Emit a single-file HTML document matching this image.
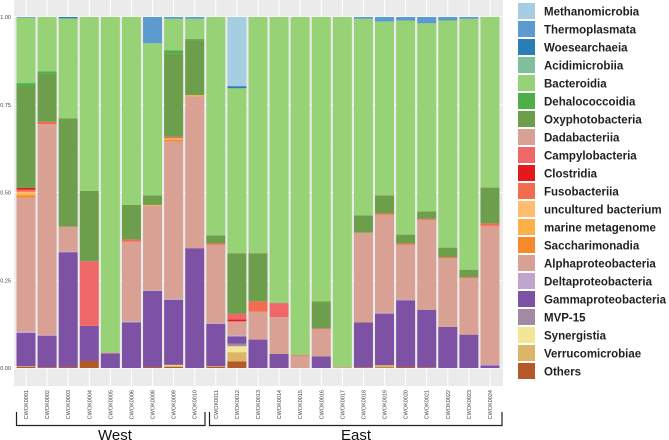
<!DOCTYPE html>
<html><head><meta charset="utf-8">
<style>
body{margin:0;background:#fff;width:669px;height:440px;overflow:hidden;font-family:"Liberation Sans",sans-serif;}
svg{display:block}
</style></head>
<body>
<svg id="chart" width="669" height="440">
<rect x="14" y="0" width="489" height="386" fill="#ebebeb"/>
<g id="grid"></g><g id="bars"></g><g id="axes"></g><g id="legend"></g>
<g fill="none" stroke="#222" stroke-width="1.2">
<path d="M16.5,412 V425.5 H205 V412"/>
<path d="M209.5,412 V425.5 H502 V412"/>
</g>
<text x="115" y="440" font-size="15" text-anchor="middle" fill="#111">West</text>
<text x="356" y="440" font-size="15" text-anchor="middle" fill="#111">East</text>
</svg>
<script>
const samples=["CWOK0001","CWOK0002","CWOK0003","CWOK0004","CWOK0005","CWOK0006","CWOK0008","CWOK0009","CWOK0010","CWOK0011","CWOK0012","CWOK0013","CWOK0014","CWOK0015","CWOK0016","CWOK0017","CWOK0018","CWOK0019","CWOK0020","CWOK0021","CWOK0022","CWOK0023","CWOK0024"];
const classes=["Methanomicrobia","Thermoplasmata","Woesearchaeia","Acidimicrobiia","Bacteroidia","Dehalococcoidia","Oxyphotobacteria","Dadabacteriia","Campylobacteria","Clostridia","Fusobacteriia","uncultured bacterium","marine metagenome","Saccharimonadia","Alphaproteobacteria","Deltaproteobacteria","Gammaproteobacteria","MVP-15","Synergistia","Verrucomicrobiae","Others"];
const colors=["#a6cee3","#5b9bd0","#2b7db5","#7fbf9b","#98d277","#4caf48","#6d9e4b","#d9a193","#ef6767","#e31a1c","#f26c4f","#fdbf6f","#fdb04a","#f6892a","#d9a193","#c0a5cf","#7d52a5","#a38aa4","#f3e697","#dcb566","#b5582a"];
const Methanomicrobia=[0,0,0,0,0,0,0,0,0,0,.197,0,0,0,0,0,0,0,0,0,0,0,0];
const Thermoplasmata=[.002,0,0,0,0,0,.075,.005,.005,0,0,0,0,0,0,0,.005,.013,.01,.018,.01,.005,0];
const Woesearchaeia=[0,0,.004,0,0,0,0,0,0,0,.006,0,0,0,0,0,0,0,0,0,0,0,0];
const Acidimicrobiia=[0,0,0,0,0,0,0,0,0,0,0,0,0,0,0,0,0,0,0,0,0,0,0];
const Bacteroidia=[.186,.155,.285,.495,.956,.535,.435,.09,.058,.622,.47,.673,.815,.963,.81,.997,.56,.492,.61,.536,.647,.715,.486];
const Dehalococcoidia=[.008,.005,0,0,0,0,0,.008,.003,0,0,0,0,0,0,0,0,0,0,0,0,0,0];
const Oxyphotobacteria=[.29,.138,.308,.2,0,.098,.027,.237,.157,.023,.172,.137,0,0,.077,0,.049,.051,.025,.021,.027,.021,.102];
const Dadabacteriia=[0,0,0,0,0,0,0,0,0,0,0,0,0,0,0,0,0,0,0,0,0,0,0];
const Campylobacteria=[0,0,0,.184,0,0,0,.004,0,0,.017,0,.04,0,0,0,0,0,0,0,0,0,0];
const Clostridia=[.005,0,0,0,0,0,0,0,0,0,.005,0,0,0,0,0,0,0,0,0,0,0,0];
const Fusobacteriia=[.006,.007,0,0,0,.006,0,0,0,.004,0,.029,0,.002,.002,0,0,.004,.004,.003,.003,.003,.007];
const uncultured=[.004,0,0,0,0,0,0,0,0,0,0,0,0,0,0,0,0,0,0,0,0,0,0];
const marine=[.006,0,0,0,0,0,.003,.005,.004,0,0,0,0,0,0,0,0,0,0,0,0,0,0];
const Saccharimonadia=[.006,0,0,0,0,0,0,.004,0,0,0,0,0,0,0,0,0,0,0,0,0,0,0];
const Alphaproteobacteria=[.38,.6,.07,0,.002,.227,.241,.446,.433,.223,.04,.08,.105,.035,.078,.003,.256,.278,.156,.256,.196,.161,.395];
const Deltaproteobacteria=[.005,.002,.003,0,0,.003,.002,.004,0,.002,.003,0,0,0,0,0,0,.002,.002,0,0,0,.003];
const Gammaproteobacteria=[.095,.09,.327,.1,.042,.13,.217,.184,.342,.121,.021,.081,.04,0,.033,0,.128,.146,.19,.164,.117,.095,.007];
const MVP15=[0,0,0,0,0,0,0,0,0,0,.007,0,0,0,0,0,0,0,0,0,0,0,0];
const Synergistia=[0,0,0,0,0,0,0,.002,0,0,.017,0,0,0,0,0,0,0,0,0,0,0,0];
const Verrucomicrobiae=[.002,0,0,0,0,0,0,.004,0,.002,.026,0,0,0,0,0,0,.006,0,0,0,0,0];
const Others=[.003,.002,.003,.02,0,0,.003,.003,0,.003,.019,0,0,0,0,0,.002,.002,.003,.002,0,0,0];
const series=[Methanomicrobia,Thermoplasmata,Woesearchaeia,Acidimicrobiia,Bacteroidia,Dehalococcoidia,Oxyphotobacteria,Dadabacteriia,Campylobacteria,Clostridia,Fusobacteriia,uncultured,marine,Saccharimonadia,Alphaproteobacteria,Deltaproteobacteria,Gammaproteobacteria,MVP15,Synergistia,Verrucomicrobiae,Others];
const yTicks=[0,0.25,0.5,0.75,1];
const yTickLabels=["0.00","0.25","0.50","0.75","1.00"];

const NS="http://www.w3.org/2000/svg";
const y0=368,y1=17;
const yS=v=>y0-(y0-y1)*v;
const x0=26,step=21.09,bw=19;
const xS=i=>x0+i*step;
function mk(tag,attrs,parent){const e=document.createElementNS(NS,tag);for(const k in attrs)e.setAttribute(k,attrs[k]);parent.appendChild(e);return e;}
const grid=document.getElementById('grid'),bars=document.getElementById('bars'),axes=document.getElementById('axes'),legend=document.getElementById('legend');
for(let t=0;t<yTicks.length;t++){
  const g=mk('line',{x1:14,x2:503,y1:yS(yTicks[t]),y2:yS(yTicks[t]),stroke:'#fff','stroke-width':1},grid);
  
  
  if(t<yTicks.length-1){const m=mk('line',{x1:14,x2:503,y1:yS((yTicks[t]+yTicks[t+1])/2),y2:yS((yTicks[t]+yTicks[t+1])/2),stroke:'#f5f5f5','stroke-width':0.5},grid);
  
  }
  const lb=mk('text',{x:11,y:yS(yTicks[t])+2,'font-size':5.5,'text-anchor':'end',fill:'#444'},axes);
  lb.textContent=yTickLabels[t];
  
  
}
for(let i=0;i<samples.length;i++){
  const gl=mk('line',{x1:xS(i),x2:xS(i),y1:0,y2:386,stroke:'#fff','stroke-width':1},grid);
  
  
  let tot=0;for(const s of series)tot+=s[i];
  let cum=0;
  for(let c=series.length-1;c>=0;c--){
    const v=series[c][i]/tot;if(v<=0)continue;
    const r=mk('rect',{x:xS(i)-bw/2,y:yS(cum+v),width:bw,height:yS(cum)-yS(cum+v),fill:colors[c]},bars);
    
    
    cum+=v;
  }
  const t=mk('text',{transform:`translate(${xS(i)+2},390) rotate(-90)`,'font-size':5.5,'text-anchor':'end',fill:'#444'},axes);
  t.textContent=samples[i];
  
  
}
for(let c=0;c<classes.length;c++){
  const r=mk('rect',{x:518,y:3+c*18,width:17,height:16,fill:colors[c]},legend);
  
  
  const t=mk('text',{x:544,y:15.5+c*18,'font-size':11.5,'font-weight':'bold',fill:'#222'},legend);
  t.textContent=classes[c];
  
  
}
</script>
</body></html>
